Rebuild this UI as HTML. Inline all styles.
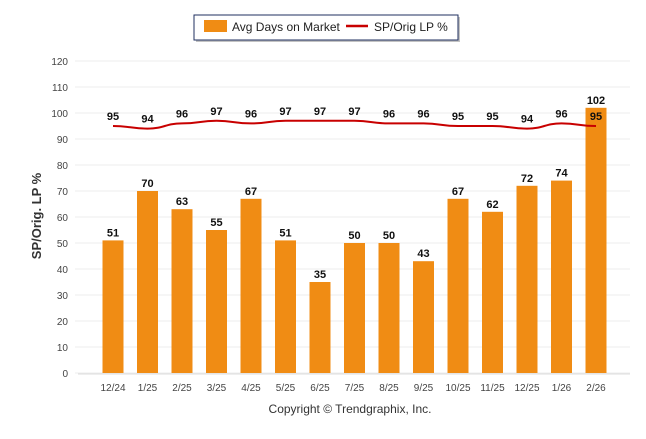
<!DOCTYPE html>
<html><head><meta charset="utf-8"><style>
body{margin:0;background:#fff;font-family:"Liberation Sans",sans-serif}
svg text{font-family:"Liberation Sans",sans-serif}
</style></head><body>
<svg width="646" height="434" xmlns="http://www.w3.org/2000/svg">
<g>
<rect x="196" y="17" width="264" height="25" fill="#888" opacity="0.5"/>
<rect x="194" y="15" width="264" height="25" fill="#fff" stroke="#1f2f5f" stroke-width="1"/>
<rect x="204" y="20" width="23" height="12" fill="#f08c14"/>
<text x="232" y="31" font-size="12" fill="#222">Avg Days on Market</text>
<line x1="346" y1="26" x2="368" y2="26" stroke="#c80000" stroke-width="2.5"/>
<text x="374" y="31" font-size="12" fill="#222">SP/Orig LP %</text>
</g>
<g id="grid"></g>
<text transform="translate(41,216) rotate(-90)" text-anchor="middle" font-size="13" font-weight="bold" fill="#333">SP/Orig. LP %</text>
<g id="bars"></g>
<g id="line"></g>
<text x="350" y="413" text-anchor="middle" font-size="12" fill="#333">Copyright © Trendgraphix, Inc.</text>
</svg>
<script>
const categories=["12/24","1/25","2/25","3/25","4/25","5/25","6/25","7/25","8/25","9/25","10/25","11/25","12/25","1/26","2/26"];
const daysOnMarket=[51,70,63,55,67,51,35,50,50,43,67,62,72,74,102];
const spOrigLp=[95,94,96,97,96,97,97,97,96,96,95,95,94,96,95];
const yTicks=[0,10,20,30,40,50,60,70,80,90,100,110,120];
const NS="http://www.w3.org/2000/svg";
const y=v=>373-v*2.6;
const x=i=>113+34.5*i;
function mk(tag,attrs,parent,txt){const e=document.createElementNS(NS,tag);for(const k in attrs)e.setAttribute(k,attrs[k]);if(txt!==undefined)e.textContent=txt;parent.appendChild(e);return e;}
const grid=document.getElementById('grid');
yTicks.forEach(t=>{
 const l=mk('line',{x1:75,x2:630,y1:y(t),y2:y(t),stroke:'#ececec','stroke-width':1},grid);
 
 
 const tx=mk('text',{x:68,y:y(t)+4,'text-anchor':'end','font-size':10,fill:'#444'},grid,t);
 
 
});
const ax=mk('line',{x1:78,x2:630,y1:374,y2:374,stroke:'#ddd'},grid);


const bars=document.getElementById('bars');
categories.forEach((c,i)=>{
 const v=daysOnMarket[i];
 const r=mk('rect',{x:x(i)-10.5,y:y(v),width:21,height:373-y(v),fill:'#f08c14'},bars);
 
 
 const t=mk('text',{x:x(i),y:y(v)-4,'text-anchor':'middle','font-size':11,'font-weight':'bold',fill:'#111'},bars,v);
 
 
 const xl=mk('text',{x:x(i),y:391,'text-anchor':'middle','font-size':10,fill:'#444'},bars,c);
 
 
});
const lg=document.getElementById('line');
let d='';
spOrigLp.forEach((v,i)=>{
 if(i===0){d='M'+x(i)+','+y(v);}else{const px=x(i-1),py=y(spOrigLp[i-1]),cx=x(i),cy=y(v),m=(cx-px)/2;d+=' C'+(px+m)+','+py+' '+(cx-m)+','+cy+' '+cx+','+cy;}
});
const p=mk('path',{d:d,fill:'none',stroke:'#c80000','stroke-width':2},lg);


spOrigLp.forEach((v,i)=>{
 const t=mk('text',{x:x(i),y:y(v)-6,'text-anchor':'middle','font-size':11,'font-weight':'bold',fill:'#111'},lg,v);
 
 
});
</script>
</body></html>
